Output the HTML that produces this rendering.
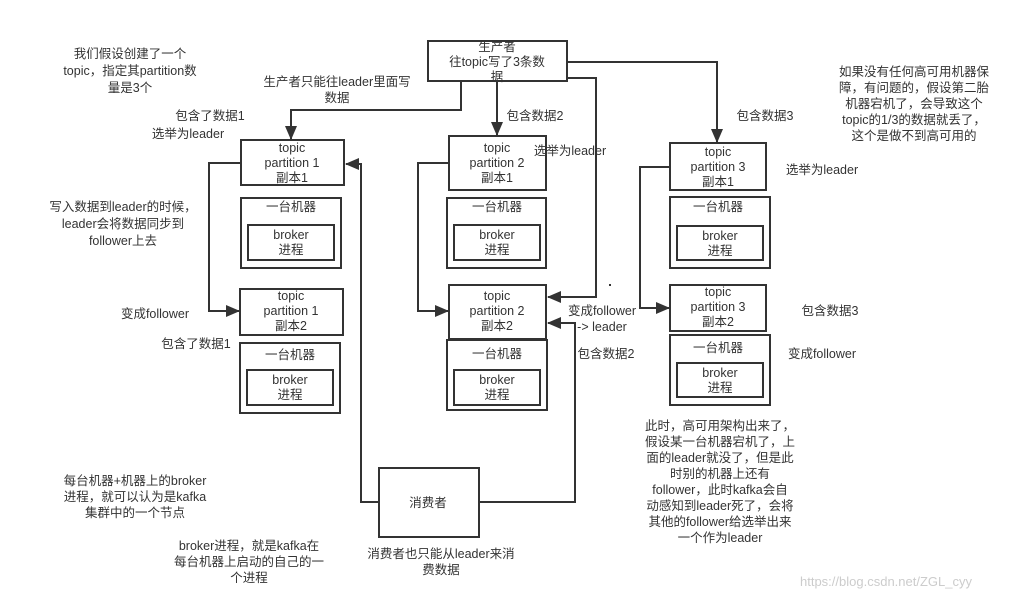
<!DOCTYPE html>
<html><head><meta charset="utf-8"><style>
body{margin:0;background:#fff;}
svg text{font-family:"Liberation Sans","Noto Sans CJK SC",sans-serif;font-size:12.5px;fill:#333;}
</style></head><body>
<svg width="1016" height="601" viewBox="0 0 1016 601" xmlns="http://www.w3.org/2000/svg">
<defs><marker id="a" markerWidth="10" markerHeight="10" refX="9" refY="5" orient="auto" markerUnits="userSpaceOnUse"><path d="M0,0 L10,5 L0,10 z" fill="#333"/></marker>
<marker id="b" markerWidth="14" markerHeight="12" refX="13" refY="6" orient="auto" markerUnits="userSpaceOnUse"><path d="M0,0 L14,6 L0,12 z" fill="#333"/></marker></defs>
<g fill="none" stroke="#333" stroke-width="2">
<rect x="428" y="41" width="139" height="40"/>
<rect x="241" y="140" width="103" height="45"/>
<rect x="241" y="198" width="100" height="70"/><rect x="248" y="225" width="86" height="35"/>
<rect x="240" y="289" width="103" height="46"/>
<rect x="240" y="343" width="100" height="70"/><rect x="247" y="370" width="86" height="35"/>
<rect x="449" y="136" width="97" height="54"/>
<rect x="447" y="198" width="99" height="70"/><rect x="454" y="225" width="86" height="35"/>
<rect x="449" y="285" width="97" height="54"/>
<rect x="447" y="340" width="100" height="70"/><rect x="454" y="370" width="86" height="35"/>
<rect x="670" y="143" width="96" height="47"/>
<rect x="670" y="197" width="100" height="71"/><rect x="677" y="226" width="86" height="34"/>
<rect x="670" y="285" width="96" height="46"/>
<rect x="670" y="335" width="100" height="70"/><rect x="677" y="363" width="86" height="34"/>
<rect x="379" y="468" width="100" height="69"/>
<polyline points="461,81 461,110 291,110 291,139" marker-end="url(#b)"/>
<polyline points="497,81 497,135" marker-end="url(#b)"/>
<polyline points="567,62 717,62 717,142" marker-end="url(#b)"/>
<polyline points="567,78 596,78 596,297 548,297" marker-end="url(#b)"/>
<polyline points="241,163 209,163 209,311 239,311" marker-end="url(#b)"/>
<polyline points="449,163 418,163 418,311 448,311" marker-end="url(#b)"/>
<polyline points="670,167 640,167 640,308 669,308" marker-end="url(#b)"/>
<polyline points="379,502 361,502 361,164 346,164" marker-end="url(#b)"/>
<polyline points="479,502 575,502 575,323 548,323" marker-end="url(#b)"/>
</g>
<g text-anchor="middle">
<text x="497" y="51">生产者</text><text x="497" y="66">往topic写了3条数</text><text x="497" y="81">据</text>
<text x="292" y="152">topic</text><text x="292" y="167">partition 1</text><text x="292" y="182">副本1</text>
<text x="291" y="211">一台机器</text><text x="291" y="239">broker</text><text x="291" y="254">进程</text>
<text x="291" y="300">topic</text><text x="291" y="315">partition 1</text><text x="291" y="330">副本2</text>
<text x="290" y="359">一台机器</text><text x="290" y="384">broker</text><text x="290" y="399">进程</text>
<text x="497" y="152">topic</text><text x="497" y="167">partition 2</text><text x="497" y="182">副本1</text>
<text x="497" y="211">一台机器</text><text x="497" y="239">broker</text><text x="497" y="254">进程</text>
<text x="497" y="300">topic</text><text x="497" y="315">partition 2</text><text x="497" y="330">副本2</text>
<text x="497" y="358">一台机器</text><text x="497" y="384">broker</text><text x="497" y="399">进程</text>
<text x="718" y="156">topic</text><text x="718" y="171">partition 3</text><text x="718" y="186">副本1</text>
<text x="718" y="211">一台机器</text><text x="720" y="240">broker</text><text x="720" y="255">进程</text>
<text x="718" y="296">topic</text><text x="718" y="311">partition 3</text><text x="718" y="326">副本2</text>
<text x="718" y="352">一台机器</text><text x="720" y="377">broker</text><text x="720" y="392">进程</text>
<text x="428" y="507">消费者</text>
<text x="130" y="58">我们假设创建了一个</text><text x="130" y="75">topic，指定其partition数</text><text x="130" y="92">量是3个</text>
<text x="337" y="86">生产者只能往leader里面写</text><text x="337" y="102">数据</text>
<text x="210" y="120">包含了数据1</text><text x="188" y="138">选举为leader</text>
<text x="123" y="211">写入数据到leader的时候，</text><text x="123" y="228">leader会将数据同步到</text><text x="123" y="245">follower上去</text>
<text x="155" y="318">变成follower</text>
<text x="196" y="348">包含了数据1</text>
<text x="535" y="120">包含数据2</text>
<text x="570" y="155">选举为leader</text>
<text x="602" y="315">变成follower</text><text x="602" y="331">-&gt; leader</text>
<text x="606" y="358">包含数据2</text>
<text x="765" y="120">包含数据3</text>
<text x="822" y="174">选举为leader</text>
<text x="830" y="315">包含数据3</text>
<text x="822" y="358">变成follower</text>
<text x="914" y="76">如果没有任何高可用机器保</text><text x="914" y="92">障，有问题的，假设第二胎</text><text x="914" y="108">机器宕机了，会导致这个</text><text x="914" y="124">topic的1/3的数据就丢了，</text><text x="914" y="140">这个是做不到高可用的</text>
<text x="135" y="485">每台机器+机器上的broker</text><text x="135" y="501">进程，就可以认为是kafka</text><text x="135" y="517">集群中的一个节点</text>
<text x="249" y="550">broker进程，就是kafka在</text><text x="249" y="566">每台机器上启动的自己的一</text><text x="249" y="582">个进程</text>
<text x="441" y="558">消费者也只能从leader来消</text><text x="441" y="574">费数据</text>
<text x="720" y="430">此时，高可用架构出来了，</text><text x="720" y="446">假设某一台机器宕机了，上</text><text x="720" y="462">面的leader就没了，但是此</text><text x="720" y="478">时别的机器上还有</text><text x="720" y="494">follower，此时kafka会自</text><text x="720" y="510">动感知到leader死了，会将</text><text x="720" y="526">其他的follower给选举出来</text><text x="720" y="542">一个作为leader</text>
</g>
<text x="800" y="586" style="fill:#ccc;font-size:13px">https://blog.csdn.net/ZGL_cyy</text>
<rect x="609" y="284" width="2" height="2" fill="#333"/>
</svg>
</body></html>
